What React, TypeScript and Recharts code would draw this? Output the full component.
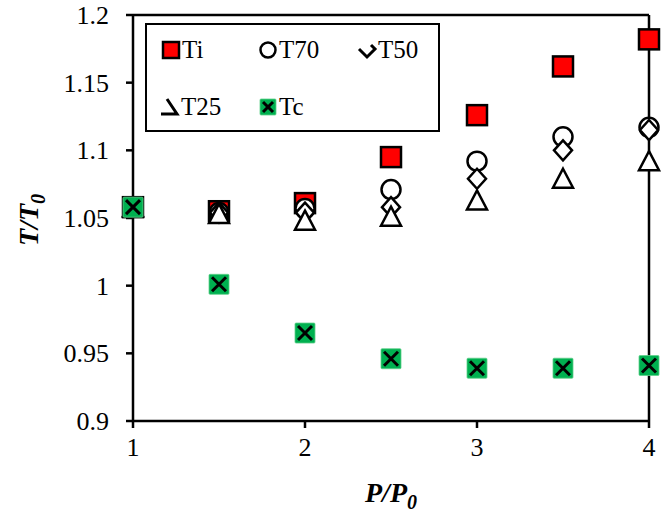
import React from 'react';
import { ScatterChart, Scatter, XAxis, YAxis, ReferenceLine, Legend } from 'recharts';

// P/P0 sample points
const pressureRatio = [1, 1.5, 2, 2.5, 3, 3.5, 4];

// T/T0 values per series
const tiValues = [1.058, 1.055, 1.061, 1.095, 1.126, 1.162, 1.182];
const t70Values = [1.058, 1.054, 1.057, 1.071, 1.092, 1.11, 1.117];
const t50Values = [1.058, 1.054, 1.054, 1.058, 1.079, 1.1, 1.115];
const t25Values = [1.058, 1.053, 1.048, 1.051, 1.063, 1.079, 1.092];
const tcValues = [1.058, 1.001, 0.965, 0.946, 0.939, 0.939, 0.941];

const seriesNames = ['Ti', 'T70', 'T50', 'T25', 'Tc'];
const xTicks = [1, 2, 3, 4];
const yTicks = [0.9, 0.95, 1, 1.05, 1.1, 1.15, 1.2];

const FONT = '"Liberation Serif", "Times New Roman", serif';

const toPoints = (vals: number[]) => pressureRatio.map((p, i) => ({ p, t: vals[i] }));

const SquareMark = ({ cx, cy, s = 10 }: any) => (
  <rect x={cx - s} y={cy - s} width={s * 2} height={s * 2} fill="#FF0000" stroke="#000" strokeWidth={2.5} />
);
const CircleMark = ({ cx, cy, s = 10 }: any) => (
  <circle cx={cx} cy={cy} r={s - 0.5} fill="#fff" stroke="#000" strokeWidth={2.5} />
);
const DiamondMark = ({ cx, cy }: any) => (
  <polygon
    points={`${cx},${cy - 10} ${cx + 9},${cy} ${cx},${cy + 10} ${cx - 9},${cy}`}
    fill="#fff"
    stroke="#000"
    strokeWidth={2.5}
  />
);
const TriangleMark = ({ cx, cy }: any) => (
  <polygon
    points={`${cx},${cy - 10} ${cx + 10},${cy + 9} ${cx - 10},${cy + 9}`}
    fill="#fff"
    stroke="#000"
    strokeWidth={2.5}
  />
);
const CrossMark = ({ cx, cy, s = 10 }: any) => (
  <g>
    <rect x={cx - s} y={cy - s} width={s * 2} height={s * 2} rx={1} fill="#00B050" stroke="#5fd08a" strokeWidth={0.8} />
    <line x1={cx - s + 3} y1={cy - s + 3} x2={cx + s - 3} y2={cy + s - 3} stroke="#000" strokeWidth={3} />
    <line x1={cx + s - 3} y1={cy - s + 3} x2={cx - s + 3} y2={cy + s - 3} stroke="#000" strokeWidth={3} />
  </g>
);

// small legend glyphs (Excel clips some of them)
const legendIcon = (name: string) => {
  const c = 10;
  switch (name) {
    case 'Ti':
      return <SquareMark cx={c} cy={c} s={8} />;
    case 'T70':
      return <CircleMark cx={c} cy={c} s={8} />;
    case 'T50':
      return (
        <path d={`M${c - 8},${c - 1} L${c},${c + 7} L${c + 8},${c - 1} L${c + 4},${c - 5}`} fill="none" stroke="#000" strokeWidth={3} />
      );
    case 'T25':
      return (
        <path d={`M${c - 3},${c - 8} L${c + 7},${c + 7} L${c - 9},${c + 7}`} fill="none" stroke="#000" strokeWidth={3} />
      );
    default:
      return <CrossMark cx={c} cy={c} s={8} />;
  }
};

const legendSpots = [
  { left: 16, top: 15 },
  { left: 113, top: 15 },
  { left: 212, top: 15 },
  { left: 15, top: 72 },
  { left: 113, top: 72 },
];

const renderLegend = () => (
  <div
    style={{
      position: 'relative',
      width: 295,
      height: 109,
      boxSizing: 'border-box',
      border: '2px solid #000',
      background: '#fff',
      fontFamily: FONT,
      fontSize: 25,
      color: '#000',
    }}
  >
    {seriesNames.map((name, i) => (
      <div
        key={name}
        style={{ position: 'absolute', left: legendSpots[i].left - 2, top: legendSpots[i].top - 4, display: 'flex', alignItems: 'center', lineHeight: '28px' }}
      >
        <svg width={20} height={20} style={{ overflow: 'visible' }}>
          {legendIcon(name)}
        </svg>
        <span style={{ marginLeft: 1, fontSize: 25 }}>{name}</span>
      </div>
    ))}
  </div>
);

const YTitle = (props: any) => {
  const vb = props.viewBox || {};
  const cx = vb.x + 38;
  const cy = vb.y + vb.height / 2 + 2;
  return (
    <text
      x={cx}
      y={cy}
      transform={`rotate(-90, ${cx}, ${cy})`}
      textAnchor="middle"
      style={{ fontFamily: FONT, fontSize: 28, fontWeight: 'bold', fontStyle: 'italic' }}
      fill="#000"
    >
      T/T
      <tspan style={{ fontSize: 20 }} dy={7}>0</tspan>
    </text>
  );
};

const XTitle = (props: any) => {
  const vb = props.viewBox || {};
  const cx = vb.x + vb.width / 2;
  return (
    <text
      x={cx}
      y={vb.y + 81}
      textAnchor="middle"
      style={{ fontFamily: FONT, fontSize: 28, fontWeight: 'bold', fontStyle: 'italic' }}
      fill="#000"
    >
      P/P
      <tspan style={{ fontSize: 20 }} dy={7}>0</tspan>
    </text>
  );
};

const XTick = ({ x, y, payload }: any) => (
  <text x={x} y={y + 22} textAnchor="middle" fill="#000" style={{ fontFamily: FONT, fontSize: 26 }}>
    {payload.value}
  </text>
);

const YTick = ({ x, y, payload }: any) => (
  <text x={x} y={y + 9} textAnchor="end" fill="#000" style={{ fontFamily: FONT, fontSize: 26 }}>
    {payload.value}
  </text>
);

const axisLine = { stroke: '#000', strokeWidth: 2.5 };

export default function App() {
  const series = [tiValues, t70Values, t50Values, t25Values, tcValues];
  const shapes = [SquareMark, CircleMark, DiamondMark, TriangleMark, CrossMark];
  return (
    <div style={{ position: 'absolute', left: 0, top: 0, background: '#fff' }}>
      <ScatterChart width={666} height={512} margin={{ top: 15, right: 17, left: 0, bottom: 0 }}>
        <XAxis
          type="number"
          dataKey="p"
          domain={[1, 4]}
          ticks={xTicks}
          height={91}
          axisLine={axisLine}
          tickLine={axisLine}
          tickSize={7}
          tickMargin={6}
          tick={<XTick />}
          label={<XTitle />}
        />
        <YAxis
          type="number"
          dataKey="t"
          domain={[0.9, 1.2]}
          ticks={yTicks}
          width={133}
          axisLine={axisLine}
          tickLine={axisLine}
          tickSize={7}
          tickMargin={17}
          tick={<YTick />}
          label={<YTitle />}
        />
        <ReferenceLine y={1.2} stroke="#000" strokeWidth={2.5} />
        <ReferenceLine x={4} stroke="#000" strokeWidth={2.5} />
        <Legend
          layout="horizontal"
          verticalAlign="middle"
          align="center"
          content={renderLegend}
          wrapperStyle={{ left: 145, top: 23, width: 295, height: 109 }}
        />
        {series.map((vals, i) => {
          const Shape = shapes[i];
          return (
            <Scatter
              key={seriesNames[i]}
              name={seriesNames[i]}
              data={toPoints(vals)}
              isAnimationActive={false}
              shape={(p: any) => <Shape cx={p.cx} cy={p.cy} />}
            />
          );
        })}
      </ScatterChart>
    </div>
  );
}
